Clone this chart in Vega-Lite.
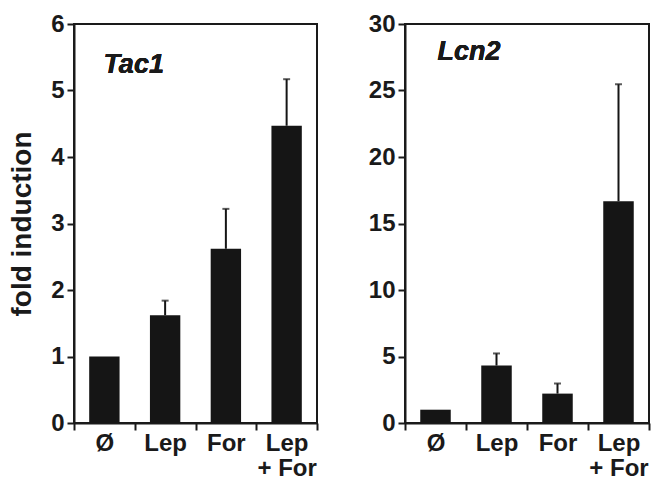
{
  "$schema": "https://vega.github.io/schema/vega-lite/v6.json",
  "padding": {"left": 7, "top": 11, "right": 2, "bottom": 0},
  "background": "white",
  "config": {
    "font": "Liberation Sans",
    "view": {"stroke": "#1a1a1a", "strokeWidth": 2},
    "axis": {
      "domainColor": "#1a1a1a", "domainWidth": 2,
      "tickColor": "#1a1a1a", "tickWidth": 2, "tickSize": 7,
      "labelFont": "Liberation Sans", "labelFontWeight": "bold", "labelFontSize": 24, "labelColor": "#1a1a1a", "labelPadding": 3,
      "grid": false,
      "titleFont": "Liberation Sans", "titleFontSize": 28, "titleFontWeight": "bold", "titleColor": "#1a1a1a"
    },
    "concat": {"spacing": 48}
  },
  "hconcat": [
    {
      "width": 243,
      "height": 399,
      "data": {"values": [
        {"cond": "Ø", "mean": 1.0},
        {"cond": "Lep", "mean": 1.62, "upper": 1.84},
        {"cond": "For", "mean": 2.62, "upper": 3.22},
        {"cond": "Lep + For", "mean": 4.47, "upper": 5.17}
      ]},
      "layer": [
        {
          "mark": {"type": "bar", "width": {"band": 0.5}, "color": "#151515"},
          "encoding": {
            "x": {"field": "cond", "type": "nominal", "sort": null,
                  "scale": {"paddingInner": 0, "paddingOuter": 0},
                  "axis": {"title": null, "labelAngle": 0, "tickBand": "extent", "labelPadding": 1, "labelLineHeight": 25,
                           "labelExpr": "datum.label == 'Lep + For' ? ['Lep', '+ For'] : datum.label"}},
            "y": {"field": "mean", "type": "quantitative",
                  "scale": {"domain": [0, 6], "nice": false},
                  "axis": {"values": [0, 1, 2, 3, 4, 5, 6], "format": "d", "title": "fold induction", "titlePadding": 14}}
          }
        },
        {
          "mark": {"type": "rule", "color": "#151515", "strokeWidth": 2},
          "encoding": {
            "x": {"field": "cond", "type": "nominal", "sort": null},
            "y": {"field": "mean", "type": "quantitative"},
            "y2": {"field": "upper"}
          }
        },
        {
          "mark": {"type": "tick", "color": "#151515", "size": 7, "thickness": 2},
          "encoding": {
            "x": {"field": "cond", "type": "nominal", "sort": null},
            "y": {"field": "upper", "type": "quantitative"}
          }
        },
        {
          "mark": {"type": "text", "text": "Tac1", "fontStyle": "italic", "fontWeight": "bold", "fontSize": 27, "align": "left", "baseline": "middle", "dx": -1, "color": "#1a1a1a"},
          "encoding": {
            "x": {"datum": "Ø", "type": "nominal"},
            "y": {"datum": 5.38, "type": "quantitative"}
          }
        }
      ]
    },
    {
      "width": 244,
      "height": 399,
      "data": {"values": [
        {"cond": "Ø", "mean": 1.0},
        {"cond": "Lep", "mean": 4.32, "upper": 5.23},
        {"cond": "For", "mean": 2.21, "upper": 2.97},
        {"cond": "Lep + For", "mean": 16.67, "upper": 25.47}
      ]},
      "layer": [
        {
          "mark": {"type": "bar", "width": {"band": 0.5}, "color": "#151515"},
          "encoding": {
            "x": {"field": "cond", "type": "nominal", "sort": null,
                  "scale": {"paddingInner": 0, "paddingOuter": 0},
                  "axis": {"title": null, "labelAngle": 0, "tickBand": "extent", "labelPadding": 1, "labelLineHeight": 25,
                           "labelExpr": "datum.label == 'Lep + For' ? ['Lep', '+ For'] : datum.label"}},
            "y": {"field": "mean", "type": "quantitative",
                  "scale": {"domain": [0, 30], "nice": false},
                  "axis": {"values": [0, 5, 10, 15, 20, 25, 30], "format": "d", "title": null}}
          }
        },
        {
          "mark": {"type": "rule", "color": "#151515", "strokeWidth": 2},
          "encoding": {
            "x": {"field": "cond", "type": "nominal", "sort": null},
            "y": {"field": "mean", "type": "quantitative"},
            "y2": {"field": "upper"}
          }
        },
        {
          "mark": {"type": "tick", "color": "#151515", "size": 7, "thickness": 2},
          "encoding": {
            "x": {"field": "cond", "type": "nominal", "sort": null},
            "y": {"field": "upper", "type": "quantitative"}
          }
        },
        {
          "mark": {"type": "text", "text": "Lcn2", "fontStyle": "italic", "fontWeight": "bold", "fontSize": 27, "align": "left", "baseline": "middle", "dx": 2, "color": "#1a1a1a"},
          "encoding": {
            "x": {"datum": "Ø", "type": "nominal"},
            "y": {"datum": 27.9, "type": "quantitative"}
          }
        }
      ]
    }
  ]
}
